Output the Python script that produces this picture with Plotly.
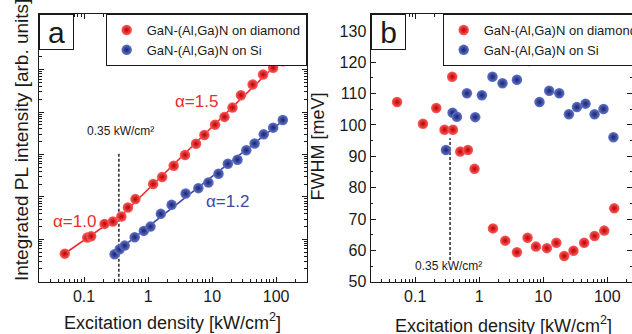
import numpy as np
import plotly.graph_objects as go

W, H = 632, 334
FONT = "Liberation Sans, Arial, sans-serif"
INK = "#1a1a1a"
RED, RED_HI, RED_LO = "#ee2b2b", "#ff5c5c", "#b80000"
BLUE, BLUE_HI, BLUE_LO = "#3a48a6", "#6274cc", "#17236e"

# ---------------- data: panel a (integrated PL intensity, arb. units) ----------------
a_dia_x = [0.050, 0.112, 0.129, 0.209, 0.282, 0.382, 0.485, 0.634, 1.20, 1.66, 2.51,
           3.77, 5.61, 7.57, 11.1, 15.6, 20.8, 28.2, 42.9, 62.6, 89.8, 127]
a_dia_y = [4.59, 10.96, 11.83, 23.1, 26.2, 34.4, 56.1, 88.7, 201, 294, 543,
           973, 1799, 2891, 5058, 7709, 12764, 24946, 44668, 77090, 110917, 158855]
a_si_x = [0.300, 0.360, 0.431, 0.618, 0.857, 1.09, 1.58, 2.33, 3.86, 6.10,
          8.75, 12.6, 17.6, 24.9, 34.2, 46.1, 63.9, 89.8, 127]
a_si_y = [4.45, 5.83, 7.10, 11.2, 15.8, 19.95, 39.8, 65.0, 120, 161,
          219, 352, 603, 755, 1265, 1820, 2985, 4305, 6501]

# ---------------- data: panel b (FWHM, meV) ----------------
b_dia_x = [0.052, 0.132, 0.213, 0.287, 0.388, 0.378, 0.505, 0.665, 0.845, 1.64, 2.55,
           3.88, 5.69, 7.69, 11.4, 16.0, 21.3, 29.7, 43.6, 63.4, 89.8, 128.5]
b_dia_y = [107.3, 100.4, 105.4, 98.5, 98.5, 115.4, 91.5, 92.0, 86.0, 67.0, 63.1,
           59.4, 64.0, 61.2, 60.7, 62.4, 58.2, 59.9, 62.4, 64.6, 66.3, 73.4]
b_si_x = [0.302, 0.383, 0.448, 0.642, 0.866, 1.10, 1.61, 2.31, 3.88, 6.11,
          8.75, 12.4, 17.8, 25.2, 33.6, 45.8, 63.4, 87.5, 125]
b_si_y = [92.0, 103.9, 102.6, 110.1, 102.5, 109.5, 115.4, 113.3, 114.4, 120.4,
          107.3, 110.9, 110.1, 103.4, 105.7, 106.8, 103.4, 105.1, 96.1]

THRESH = 0.35              # kW/cm^2
THRESH_A_Y = [1, 1080]     # extent of the dashed marker, panel a
THRESH_B_Y = [56.9, 95.8]  # extent of the dashed marker, panel b

X_TICKS = [0.1, 1, 10, 100]
X_TICKTEXT = ["0.1", "1", "10", "100"]
B_Y_TICKS = [50, 60, 70, 80, 90, 100, 110, 120, 130]

SERIES_NAMES = ["GaN-(Al,Ga)N on diamond", "GaN-(Al,Ga)N on Si"]


def px(x):
    return x / W


def py(y):
    return 1 - y / H


# ---------------- power-law fits (log-log) ----------------
lx, ly = np.log10(a_dia_x), np.log10(a_dia_y)
low = np.array(a_dia_x) < THRESH
p_lo = np.polyfit(lx[low], ly[low], 1)
p_hi = np.polyfit(lx[~low], ly[~low], 1)
x_int = (p_hi[1] - p_lo[1]) / (p_lo[0] - p_hi[0])
lo_seg = np.array([lx.min(), x_int])
hi_seg = np.array([x_int, lx.max()])

sx, sy = np.log10(a_si_x), np.log10(a_si_y)
p_si = np.polyfit(sx, sy, 1)
si_seg = np.array([sx.min(), sx.max()])

fig = go.Figure()

line_kw = dict(mode="lines", showlegend=False, hoverinfo="skip")
fig.add_trace(go.Scatter(x=10 ** lo_seg, y=10 ** np.polyval(p_lo, lo_seg),
                         line=dict(color=RED, width=1.6), xaxis="x", yaxis="y", **line_kw))
fig.add_trace(go.Scatter(x=10 ** hi_seg, y=10 ** np.polyval(p_hi, hi_seg),
                         line=dict(color=RED, width=1.6), xaxis="x", yaxis="y", **line_kw))
fig.add_trace(go.Scatter(x=10 ** si_seg, y=10 ** np.polyval(p_si, si_seg),
                         line=dict(color=BLUE, width=1.6), xaxis="x", yaxis="y", **line_kw))

# dashed threshold markers
fig.add_trace(go.Scatter(x=[THRESH, THRESH], y=THRESH_A_Y, xaxis="x", yaxis="y",
                         line=dict(color="black", width=1.3, dash="3px,2px"), **line_kw))
fig.add_trace(go.Scatter(x=[THRESH, THRESH], y=THRESH_B_Y, xaxis="x2", yaxis="y2",
                         line=dict(color="black", width=1.3, dash="3px,2px"), **line_kw))


def sphere(hi, lo):
    return dict(size=10.5, color=hi, line=dict(width=0),
                gradient=dict(type="radial", color=lo))


fig.add_trace(go.Scatter(x=a_dia_x, y=a_dia_y, mode="markers", name=SERIES_NAMES[0],
                         marker=sphere(RED_HI, RED_LO), xaxis="x", yaxis="y", legend="legend"))
fig.add_trace(go.Scatter(x=a_si_x, y=a_si_y, mode="markers", name=SERIES_NAMES[1],
                         marker=sphere(BLUE_HI, BLUE_LO), xaxis="x", yaxis="y", legend="legend"))
fig.add_trace(go.Scatter(x=b_dia_x, y=b_dia_y, mode="markers", name=SERIES_NAMES[0],
                         marker=sphere(RED_HI, RED_LO), xaxis="x2", yaxis="y2", legend="legend2"))
fig.add_trace(go.Scatter(x=b_si_x, y=b_si_y, mode="markers", name=SERIES_NAMES[1],
                         marker=sphere(BLUE_HI, BLUE_LO), xaxis="x2", yaxis="y2", legend="legend2"))

minor_x = [k * 10.0 ** d for d in range(-2, 3) for k in range(2, 10)]
minor_ya = [k * 10.0 ** d for d in range(0, 7) for k in range(2, 10)]
minor_yb = [55, 65, 75, 85, 95, 105, 115, 125, 135]

common = dict(showline=True, linecolor=INK, linewidth=1, mirror="allticks",
              ticks="inside", ticklen=5, tickwidth=1, tickcolor=INK,
              showgrid=False, zeroline=False,
              tickfont=dict(size=16, color=INK, family=FONT))
minor_common = dict(ticks="inside", ticklen=2.5, tickwidth=1, tickcolor=INK, showgrid=False)

ydom = [py(281.7), py(14)]
leg_common = dict(y=py(14), yanchor="top", bgcolor="white", bordercolor=INK, borderwidth=1,
                  font=dict(size=13, color=INK, family=FONT), tracegroupgap=0,
                  itemwidth=30)
fig.update_layout(
    width=W, height=H,
    margin=dict(l=0, r=0, t=0, b=0, autoexpand=False),
    paper_bgcolor="white", plot_bgcolor="white",
    font=dict(family=FONT, color=INK),
    xaxis=dict(domain=[px(39.3), px(306.7)], type="log",
               range=[np.log10(0.02), np.log10(300)], anchor="y",
               tickvals=X_TICKS, ticktext=X_TICKTEXT,
               minor=dict(tickvals=minor_x, **minor_common), **common),
    yaxis=dict(domain=ydom, type="log", range=[0, 6.314], anchor="x",
               tickvals=[10.0 ** k for k in range(0, 7)], showticklabels=False,
               minor=dict(tickvals=minor_ya, **minor_common), **common),
    xaxis2=dict(domain=[px(370.5), 1.0], type="log",
                range=[np.log10(0.02), np.log10(0.02) + (632 - 370.5) / 64.0], anchor="y2",
                tickvals=X_TICKS, ticktext=X_TICKTEXT,
                minor=dict(tickvals=minor_x, **minor_common), **common),
    yaxis2=dict(domain=ydom, range=[50, 135.4], anchor="x2",
                tickvals=B_Y_TICKS,
                minor=dict(tickvals=minor_yb, **minor_common), **common),
    legend=dict(x=px(306.7), xanchor="right", **leg_common),
    legend2=dict(x=px(442.7), xanchor="left", **leg_common),
    showlegend=True,
)

ann = []


def text(t, x, y, size, color=INK, angle=0):
    ann.append(dict(text=t, x=px(x), y=py(y), xref="paper", yref="paper",
                    xanchor="center", yanchor="middle",
                    showarrow=False, textangle=angle,
                    font=dict(size=size, color=color, family=FONT)))


text("Integrated PL intensity [arb. units]", 21, 140, 19, angle=-90)
text("Excitation density [kW/cm<sup>2</sup>]", 172, 321, 18)
text("FWHM [meV]", 317, 146.5, 18, angle=-90)
text("Excitation density [kW/cm<sup>2</sup>]", 503.5, 324, 18)
text("0.35 kW/cm²", 120, 131, 12)
text("0.35 kW/cm²", 448, 266, 12)
text("α=1.5", 196, 101.7, 17, color=RED)
text("α=1.0", 74, 221, 17, color=RED)
text("α=1.2", 227.5, 201.7, 17, color=BLUE)

for lab, x0 in (("a", 39.3), ("b", 370.5)):
    ann.append(dict(text=lab, x=px(x0), y=py(14), xref="paper", yref="paper",
                    xanchor="left", yanchor="top", showarrow=False,
                    width=33, height=34, borderpad=0, borderwidth=1,
                    bordercolor=INK, bgcolor="white",
                    font=dict(size=30, color=INK, family=FONT)))

fig.update_layout(annotations=ann)
fig.write_html("out.html")
